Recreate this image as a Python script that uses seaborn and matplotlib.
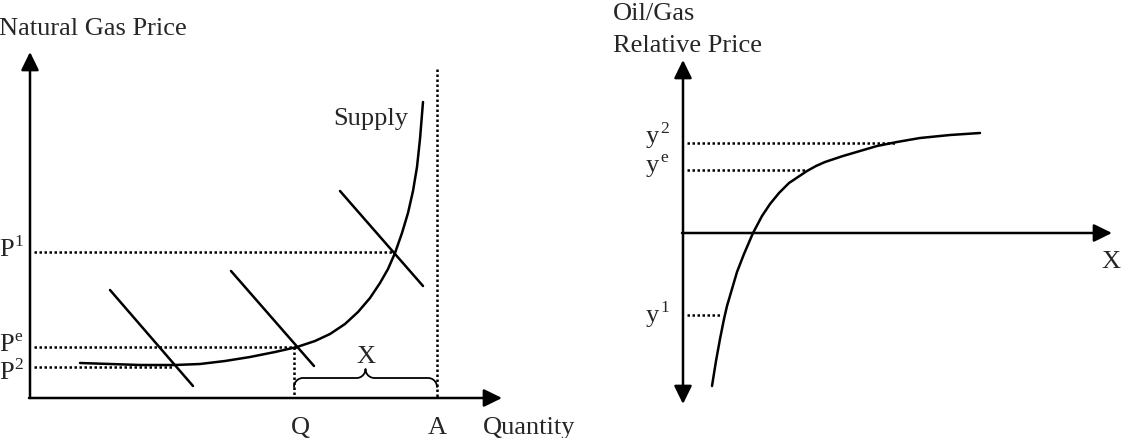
import numpy as np
import pandas as pd
import matplotlib
matplotlib.use("Agg")
import matplotlib.pyplot as plt
import seaborn as sns

# --- Data (in pixel-like diagram units) ---
supply_x = [80, 110, 140, 175, 200, 225, 250, 275, 297, 315, 330, 345, 358, 370, 380, 388, 395, 402, 408, 413, 417, 420, 423]
supply_y = [364, 365, 366, 366, 365, 362, 358, 353, 348, 342, 335, 325, 313, 299, 284, 270, 254, 234, 214, 192, 168, 140, 103]

demand_x0 = [110, 231, 340]
demand_y0 = [291, 272, 192]
demand_x1 = [193, 314, 423]
demand_y1 = [387, 367, 287]

price_labels = ["1", "e", "2"]
price_y = [253, 348, 368]
price_x_end = [394, 297, 173]
price_label_base = [256, 351, 379]

q_x, a_x = 294, 437
brace_y = 379

rel_x = [712, 716, 720, 724, 727, 732, 737, 744, 753, 762, 770, 779, 789, 798, 807, 816, 825, 834, 843, 860, 877, 897, 920, 950, 980]
rel_y = [387, 362, 340, 320, 307, 290, 273, 255, 234, 217, 205, 194, 184, 178, 172, 167, 163, 160, 157, 152, 147, 143, 139, 136, 134]

rel_labels = ["2", "e", "1"]
rel_level_y = [144, 171, 316]
rel_level_x_end = [897, 807, 722]
rel_label_base = [143, 172, 322]

# --- Style ---
sns.set_theme(style="white")
plt.rcParams["font.family"] = ["Liberation Serif", "DejaVu Serif"]

fig = plt.figure(figsize=(11.23, 4.39), dpi=100)
ax = fig.add_axes([0, 0, 1, 1])
ax.set_xlim(0, 1123)
ax.set_ylim(439, 0)
ax.axis("off")

FS = 19
FS_SUP = 12.5
LW = 1.8
dot = (0, (1, 1))
arrow = dict(arrowstyle="-|>,head_length=0.55,head_width=0.27", lw=LW, color="black",
             mutation_scale=20, shrinkA=0, shrinkB=0)


def sup_label(x, base, letter, sup, dx):
    ax.text(x, base, letter, fontsize=FS, ha="left", va="baseline")
    ax.text(x + dx, base - 10, sup, fontsize=FS_SUP, ha="left", va="baseline")


# --- Left panel: natural gas market ---
ax.annotate("", xy=(30, 53), xytext=(30, 399), arrowprops=arrow)
ax.annotate("", xy=(502, 399), xytext=(29, 399), arrowprops=arrow)

sns.lineplot(x=supply_x, y=supply_y, sort=False, estimator=None, color="black", lw=LW, ax=ax)
for x0, y0, x1, y1 in zip(demand_x0, demand_y0, demand_x1, demand_y1):
    ax.plot([x0, x1], [y0, y1], color="black", lw=LW)

for lab, yv, xe, yb in zip(price_labels, price_y, price_x_end, price_label_base):
    ax.plot([34, xe], [yv, yv], color="black", lw=LW, ls=dot)
    sup_label(-1, yb, "P", lab, 15)

ax.plot([q_x, q_x], [price_y[1], 398], color="black", lw=LW, ls=dot)
ax.plot([a_x, a_x], [70, 398], color="black", lw=LW, ls=dot)

# curly brace between Q and A
r = 9
mid = (q_x + a_x) / 2
t = np.linspace(0, np.pi / 2, 20)
seg1x = q_x + r - r * np.cos(t); seg1y = brace_y + r - r * np.sin(t)
seg2x = mid - r + r * np.sin(t); seg2y = brace_y - r + r * np.cos(t)
seg3x = mid + r - r * np.sin(t[::-1]); seg3y = brace_y - r + r * np.cos(t[::-1])
seg4x = a_x - r + r * np.sin(t); seg4y = brace_y + r - r * np.cos(t)
bx = np.concatenate([seg1x, seg2x, seg3x, seg4x])
by = np.concatenate([seg1y, seg2y, seg3y, seg4y])
ax.plot(bx, by, color="black", lw=1.3)

ax.text(mid, 363, "X", fontsize=FS, ha="center", va="baseline")
ax.text(333, 125, "Supply", fontsize=FS, ha="left", va="baseline")
ax.text(-1, 35, "Natural Gas Price", fontsize=FS, ha="left", va="baseline")
ax.text(q_x + 6, 434, "Q", fontsize=FS, ha="center", va="baseline")
ax.text(a_x, 434, "A", fontsize=FS, ha="center", va="baseline")
ax.text(483, 434, "Quantity", fontsize=FS, ha="left", va="baseline")

# --- Right panel: oil/gas relative price ---
ax.annotate("", xy=(683, 61), xytext=(683, 234), arrowprops=arrow)
ax.annotate("", xy=(683, 405), xytext=(683, 234), arrowprops=arrow)
ax.annotate("", xy=(1112, 234), xytext=(682, 234), arrowprops=arrow)

sns.lineplot(x=rel_x, y=rel_y, sort=False, estimator=None, color="black", lw=LW, ax=ax)
for lab, yv, xe, yb in zip(rel_labels, rel_level_y, rel_level_x_end, rel_label_base):
    ax.plot([687, xe], [yv, yv], color="black", lw=LW, ls=dot)
    sup_label(646, yb, "y", lab, 14)

ax.text(613, 20, "Oil/Gas", fontsize=FS, ha="left", va="baseline")
ax.text(613, 52, "Relative Price", fontsize=FS, ha="left", va="baseline")
ax.text(1111, 268, "X", fontsize=FS, ha="center", va="baseline")

fig.savefig("out.png", dpi=100, facecolor="white")
